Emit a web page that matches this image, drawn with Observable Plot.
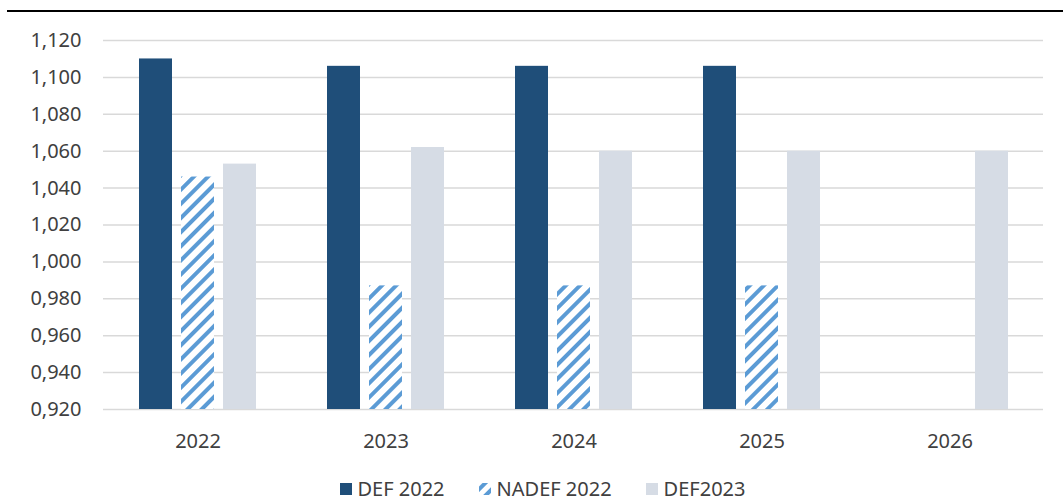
<!DOCTYPE html>
<html>
<head>
<meta charset="utf-8">
<script src="https://cdn.jsdelivr.net/npm/d3@7"></script>
<script src="https://cdn.jsdelivr.net/npm/@observablehq/plot@0.6"></script>
<style>
  html, body { margin: 0; padding: 0; background: #fff; }
  body { width: 1063px; height: 501px; position: relative; overflow: hidden; font-family: "Noto Sans", sans-serif; }
  #topline { position: absolute; left: 7px; right: 0; top: 10px; height: 2px; background: #000; }
  #chart { position: absolute; left: 0; top: 0; }
  #legend { position: absolute; left: 0; top: 478px; width: 1063px; display: flex; justify-content: center; align-items: center; gap: 34px; font-size: 20px; line-height: 22px; color: #404040; padding-left: 22px; box-sizing: border-box; }
  .item { display: flex; align-items: center; gap: 6px; white-space: nowrap; }
  .sw { width: 12px; height: 12px; display: block; }
</style>
</head>
<body>
<div id="topline"></div>
<div id="chart"></div>
<div id="legend"></div>
<script>
const years = ["2022", "2023", "2024", "2025", "2026"];
const def2022 = [1.110, 1.106, 1.106, 1.106, null];
const nadef2022 = [1.046, 0.987, 0.987, 0.987, null];
const def2023 = [1.053, 1.062, 1.060, 1.060, 1.060];
const seriesNames = ["DEF 2022", "NADEF 2022", "DEF2023"];
const yTicks = [0.92, 0.94, 0.96, 0.98, 1.00, 1.02, 1.04, 1.06, 1.08, 1.10, 1.12];

const colDark = "#1f4e79";
const colHatch = "#5b9bd5";
const colLight = "#d6dce5";

const rows = (vals) => years.map((y, i) => ({year: y, value: vals[i]})).filter(d => d.value != null);
const fmt = d => d3.format(".3f")(d).replace(".", ",");

const step = 42;
const plot = Plot.plot({
  width: 1063,
  height: 465,
  marginTop: 40,
  marginBottom: 56,
  marginLeft: 103,
  marginRight: 20,
  style: {fontSize: "20px", fontFamily: "Noto Sans", color: "#404040", background: "transparent"},
  x: {domain: years, paddingInner: 0.378, paddingOuter: 0.189, label: null},
  y: {domain: [0.92, 1.12], label: null},
  marks: [
    Plot.gridY(yTicks, {stroke: "#d9d9d9", strokeOpacity: 1, strokeWidth: 1.5}),
    Plot.barY(rows(def2022), {x: "year", y1: 0.92, y2: "value", fill: colDark, insetLeft: 0, insetRight: 2 * step}),
    Plot.barY(rows(nadef2022), {x: "year", y1: 0.92, y2: "value", fill: "url(#hatch)", insetLeft: step, insetRight: step}),
    Plot.barY(rows(def2023), {x: "year", y1: 0.92, y2: "value", fill: colLight, insetLeft: 2 * step, insetRight: 0}),
    Plot.axisY(yTicks, {tickSize: 0, tickPadding: 22, tickFormat: fmt, fontSize: 20, fill: "#404040"}),
    Plot.axisX({tickSize: 0, tickPadding: 24, fontSize: 20, fill: "#404040"})
  ]
});

// hatch pattern definition
const svg = d3.select(plot);
const defs = svg.insert("defs", ":first-child");
const pat = defs.append("pattern")
  .attr("id", "hatch").attr("patternUnits", "userSpaceOnUse")
  .attr("width", 10).attr("height", 10)
  .attr("patternTransform", "rotate(45)");
pat.append("rect").attr("width", 10).attr("height", 10).attr("fill", "#fff");
pat.append("rect").attr("x", 0).attr("width", 4).attr("height", 10).attr("fill", colHatch);
document.getElementById("chart").appendChild(plot);

// legend
const legend = d3.select("#legend");
const sw = [colDark, "hatch", colLight];
seriesNames.forEach((name, i) => {
  const it = legend.append("div").attr("class", "item");
  const s = it.append("svg").attr("class", "sw").attr("width", 12).attr("height", 12);
  if (sw[i] === "hatch") {
    const p = s.append("defs").append("pattern").attr("id", "hatchLeg").attr("patternUnits", "userSpaceOnUse")
      .attr("width", 9).attr("height", 9).attr("patternTransform", "rotate(45 6 6)");
    p.append("rect").attr("width", 9).attr("height", 9).attr("fill", "#fff");
    p.append("rect").attr("x", 0).attr("width", 4).attr("height", 9).attr("fill", colHatch);
    s.append("rect").attr("width", 12).attr("height", 12).attr("fill", "url(#hatchLeg)");
  } else {
    s.append("rect").attr("width", 12).attr("height", 12).attr("fill", sw[i]);
  }
  it.append("span").text(name);
});
</script>
</body>
</html>
